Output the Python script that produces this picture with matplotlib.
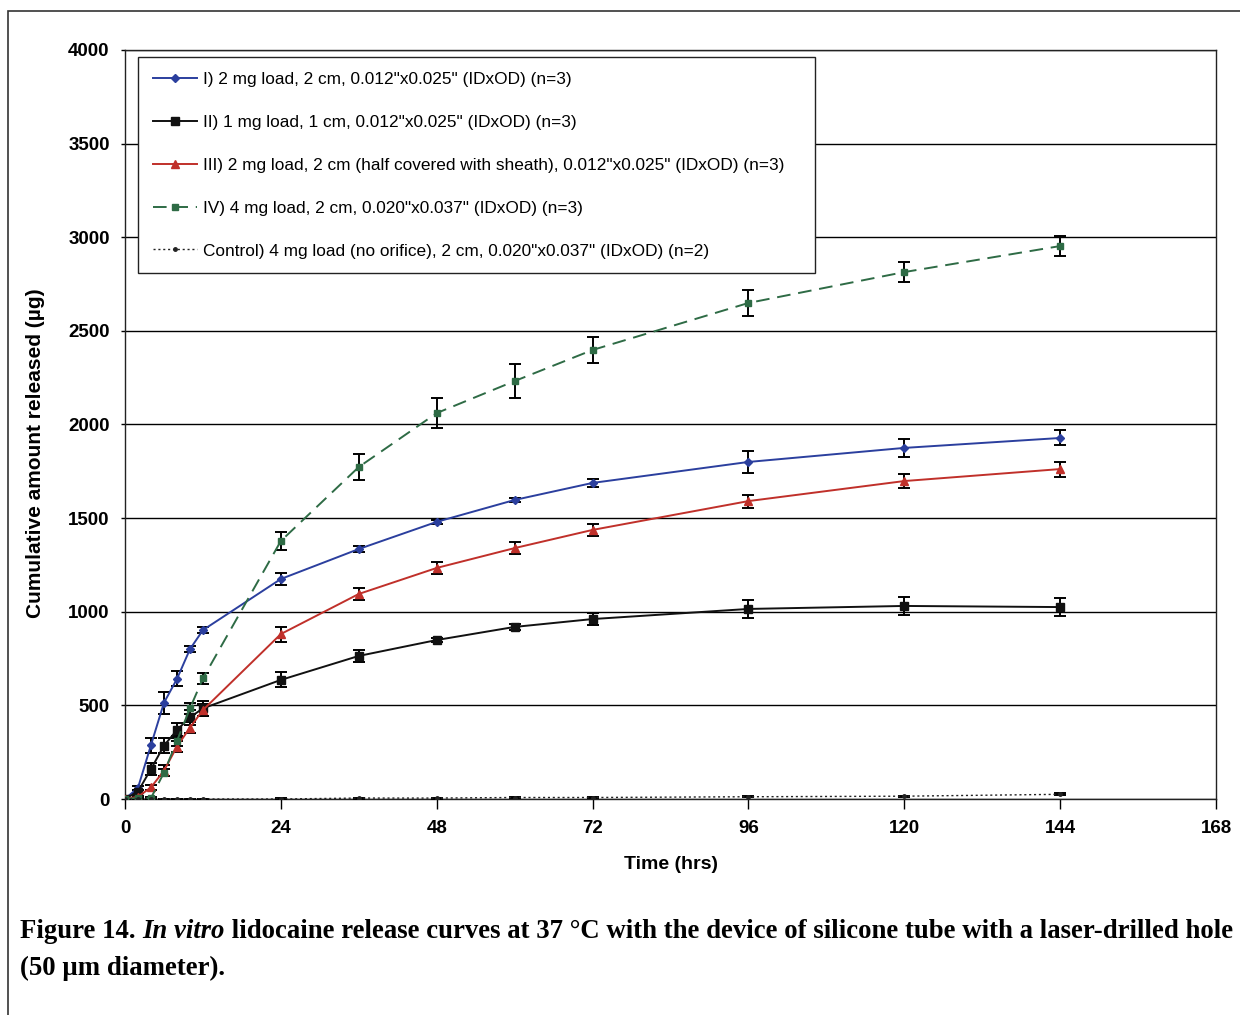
import numpy as np
import matplotlib.pyplot as plt
from matplotlib.patches import Rectangle
from matplotlib.transforms import offset_copy

# sampling times (hrs)
t = [0, 2, 4, 6, 8, 10, 12, 24, 36, 48, 60, 72, 96, 120, 144]

# cumulative release (ug) and SD for each device
rel_1 = [0, 60, 288, 514, 641, 800, 902, 1175, 1335, 1480, 1597, 1688, 1800, 1875, 1928]
sd_1 = [0, 10, 40, 60, 40, 15, 15, 30, 15, 10, 10, 20, 60, 50, 40]
rel_2 = [0, 40, 160, 285, 368, 436, 484, 636, 764, 849, 919, 961, 1015, 1031, 1025]
sd_2 = [0, 10, 30, 40, 40, 40, 40, 40, 30, 10, 15, 30, 50, 50, 50]
rel_3 = [0, 12, 62, 151, 280, 381, 475, 881, 1095, 1234, 1340, 1437, 1591, 1698, 1762]
sd_3 = [0, 5, 15, 30, 30, 30, 30, 40, 30, 30, 30, 30, 35, 35, 40]
rel_4 = [0, 5, 5, 141, 310, 484, 644, 1378, 1773, 2061, 2232, 2398, 2649, 2814, 2953]
sd_4 = [0, 5, 5, 20, 25, 30, 30, 50, 70, 80, 90, 70, 70, 55, 55]
rel_c = [0, 0, 0, 0, 0, 0, 0, 0, 5, 5, 8, 8, 12, 15, 25]
sd_c = [0, 0, 0, 0, 0, 0, 0, 3, 3, 3, 3, 3, 3, 3, 5]

labels = [
    'I) 2 mg load, 2 cm, 0.012"x0.025" (IDxOD) (n=3)',
    'II) 1 mg load, 1 cm, 0.012"x0.025" (IDxOD) (n=3)',
    'III) 2 mg load, 2 cm (half covered with sheath), 0.012"x0.025" (IDxOD) (n=3)',
    'IV) 4 mg load, 2 cm, 0.020"x0.037" (IDxOD) (n=3)',
    'Control) 4 mg load (no orifice), 2 cm, 0.020"x0.037" (IDxOD) (n=2)',
]

x_ticks = [0, 24, 48, 72, 96, 120, 144, 168]
y_ticks = [0, 500, 1000, 1500, 2000, 2500, 3000, 3500, 4000]

plt.rcParams['font.family'] = ['Liberation Sans', 'DejaVu Sans']

fig = plt.figure(figsize=(12.4, 10.15), dpi=100)
ax = fig.add_axes([125 / 1240, 1 - 799 / 1015, 1091 / 1240, 749 / 1015])

# outer frame (left and top edges visible)
fig.patches.append(Rectangle((8 / 1240, -0.02), 1.1, 1 - 11 / 1015 + 0.02,
                             transform=fig.transFigure, fill=False,
                             edgecolor='#333333', linewidth=1.2))

series = [
    (rel_1, sd_1, '#2b3f9e', 'D', 4.5, '-'),
    (rel_2, sd_2, '#111111', 's', 5.5, '-'),
    (rel_3, sd_3, '#c0302a', '^', 6, '-'),
    (rel_4, sd_4, '#2e6b45', 's', 4.5, (0, (7, 4))),
    (rel_c, sd_c, '#222222', 'o', 2.5, (0, (1.5, 2))),
]

handles = []
for (y, e, c, m, ms, ls), lab in zip(series, labels):
    lw = 1.0 if lab.startswith('Control') else 1.4
    ax.errorbar(t, y, yerr=e, fmt='none', ecolor='black', elinewidth=1.4,
                capsize=4, capthick=1.4, zorder=3)
    h, = ax.plot(t, y, color=c, marker=m, markersize=ms, linestyle=ls,
                 linewidth=lw, label=lab, zorder=4)
    handles.append(h)

ax.set_xlim(0, 168)
ax.set_ylim(0, 4000)
ax.set_xticks(x_ticks)
ax.set_yticks(y_ticks)
ax.yaxis.grid(True, color='black', linewidth=1.0)
ax.set_axisbelow(True)
for s in ax.spines.values():
    s.set_color('#222222')
    s.set_linewidth(1.0)
ax.tick_params(axis='x', direction='out', length=7, width=1, labelsize=13.5, pad=8)
ax.tick_params(axis='y', direction='out', length=3, width=1, labelsize=13.5, pad=8)
for lab in ax.get_xticklabels() + ax.get_yticklabels():
    lab.set_fontweight('bold')

ax.set_xlabel('Time (hrs)', fontsize=14, fontweight='bold', labelpad=14)
ax.set_ylabel('Cumulative amount released (\u00b5g)', fontsize=15,
              fontweight='bold')
ax.yaxis.set_label_coords(-0.073, 0.462)

leg_h = 215 / 749
leg = ax.legend(handles=handles, loc='upper left',
                bbox_to_anchor=(13 / 1091, 1 - 7 / 749 - leg_h, 677 / 1091, leg_h),
                mode='expand', borderaxespad=0,
                prop={'size': 12.4}, labelspacing=1.62, handlelength=2.6,
                handletextpad=0.3, borderpad=0.85, fancybox=False,
                framealpha=1, edgecolor='#222222')
leg.get_frame().set_linewidth(1.0)

# caption, built from pieces so "In vitro" can be italic
cap_font = dict(fontsize=19.3, fontweight='bold', family='Liberation Serif', va='center')
pieces = [('Figure 14. ', 'normal'), ('In vitro', 'italic'),
          (' lidocaine release curves at 37 \u00b0C with the device of silicone tube with a laser-drilled hole', 'normal')]
renderer = fig.canvas.get_renderer()
x0 = 20
for txt, style in pieces:
    tr = offset_copy(fig.transFigure, fig=fig, x=x0 - 20, y=0, units='dots')
    tx = fig.text(20 / 1240, 1 - 932 / 1015, txt, fontstyle=style,
                  transform=tr, **cap_font)
    x0 += tx.get_window_extent(renderer).width
fig.text(20 / 1240, 1 - 968 / 1015, '(50 \u00b5m diameter).', **cap_font)

fig.savefig('out.png', dpi=100)
